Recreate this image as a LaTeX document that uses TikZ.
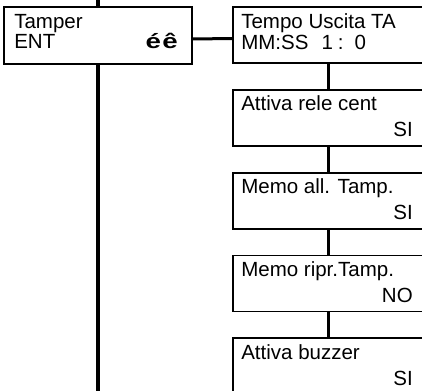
\documentclass[tikz,border=0pt]{standalone}
\usepackage{fontspec}
\setmainfont{Liberation Sans}
\usepackage{graphicx}
\usetikzlibrary{positioning}

\begin{document}
\begin{tikzpicture}[
    x=1pt, y=-1pt,
    node distance=25pt,
    menubox/.style={rectangle, draw=black, line width=1.8pt, minimum width=190pt,
                    minimum height=56pt, inner sep=0pt},
    txt/.style={inner sep=0pt, font=\fontsize{20.5}{22}\selectfont},
    link/.style={line width=3pt},
    spine/.style={line width=4pt}
]

\clip (0,0) rectangle (422,390);

% left menu entry and its spine
\node[menubox, minimum width=188pt, minimum height=57pt] (tamper) at (98,35.5) {};
\coordinate (spinetop) at (98,0);
\coordinate (spinebot) at (98,395);
\draw[spine] (spinetop) -- (tamper.north);
\draw[spine] (tamper.south) -- (spinebot);

\node[txt, anchor=base west] (tamperl1) at ([xshift=11pt,yshift=-22pt]tamper.north west) {Tamper};
\node[txt, anchor=base west] (tamperl2) at ([yshift=-20pt]tamperl1.base west) {ENT};
\node[txt, anchor=base east] (tamperkeys) at ([xshift=-15pt,yshift=-42pt]tamper.north east)
    {\bfseries\scalebox{1.35}[1]{é\hspace{1pt}ê}};

% sub menu
\node[menubox] (tempo) at (328,35) {};
\node[menubox, below=of tempo]    (rele)     {};
\node[menubox, below=of rele]     (memoall)  {};
\node[menubox, below=of memoall]  (memoripr) {};
\node[menubox, below=of memoripr] (buzzer)   {};

\draw[link] ([yshift=-3.5pt]tamper.east) -- ([yshift=-3.5pt]tempo.west);
\draw[link] (tempo)    -- (rele);
\draw[link] (rele)     -- (memoall);
\draw[link] (memoall)  -- (memoripr);
\draw[link] (memoripr) -- (buzzer);

\node[txt, anchor=base west] (tempol1) at ([xshift=9pt,yshift=-22pt]tempo.north west) {Tempo Uscita TA};
\node[txt, anchor=base west] (tempol2) at ([yshift=-21pt]tempol1.base west)
    {MM:SS\hspace{13pt}1\hspace{5pt}:\hspace{11pt}0};

\node[txt, anchor=base west] (relel1) at ([xshift=9pt,yshift=-22pt]rele.north west) {Attiva rele cent};
\node[txt, anchor=base east] (relel2) at ([xshift=-11pt,yshift=-48pt]rele.north east) {SI};

\node[txt, anchor=base west] (memoalll1) at ([xshift=9pt,yshift=-22pt]memoall.north west) {Memo all. Tamp.};
\node[txt, anchor=base east] (memoalll2) at ([xshift=-11pt,yshift=-48pt]memoall.north east) {SI};

\node[txt, anchor=base west] (memoriprl1) at ([xshift=9pt,yshift=-22pt]memoripr.north west) {Memo ripr.Tamp.};
\node[txt, anchor=base east] (memoriprl2) at ([xshift=-11pt,yshift=-48pt]memoripr.north east) {NO};

\node[txt, anchor=base west] (buzzerl1) at ([xshift=9pt,yshift=-22pt]buzzer.north west) {Attiva buzzer};
\node[txt, anchor=base east] (buzzerl2) at ([xshift=-11pt,yshift=-48pt]buzzer.north east) {SI};

\end{tikzpicture}
\end{document}
